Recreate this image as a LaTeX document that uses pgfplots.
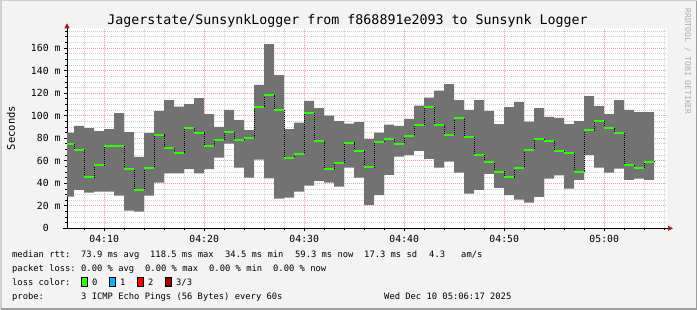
\documentclass[border=0pt]{standalone}
\usepackage{fontspec}
\setmonofont{DejaVu Sans Mono}
\usepackage{xcolor}
\usepackage{pgfplots}
\pgfplotsset{compat=1.18}
\usepackage{pgfplotstable}
\usepgfplotslibrary{fillbetween}
\usetikzlibrary{arrows.meta}
\definecolor{bgc}{RGB}{243,243,243}
\definecolor{shadea}{RGB}{207,207,207}
\definecolor{shadeb}{RGB}{158,158,158}
\definecolor{smoke}{RGB}{114,114,114}
\definecolor{medc}{RGB}{38,255,0}
\definecolor{c1}{RGB}{0,184,255}
\definecolor{c2}{RGB}{255,0,0}
\definecolor{c3}{RGB}{160,0,0}
\definecolor{arrowc}{RGB}{150,30,30}
\definecolor{majc}{RGB}{235,160,160}
\definecolor{minc}{RGB}{205,205,205}
\newcommand\titlefont{\ttfamily\fontsize{13.3}{15}\selectfont}
\newcommand\tickfont{\ttfamily\fontsize{9.8}{11}\selectfont}
\newcommand\legfont{\ttfamily\fontsize{8.8}{10}\selectfont}
\pgfplotstableread{
x lo hi med
6.28 28.1 84.9 75.1
7 34.0 90.8 69.5
8 31.6 89.0 45.5
9 32.5 86.3 56.2
10 32.5 88.1 73.3
11 29.0 102.3 73.3
12 15.6 85.4 52.6
13 14.8 63.3 34.3
14 29.0 84.6 53.8
15 40.5 104.1 83.1
16 48.8 113.8 71.5
17 48.8 107.9 67.1
18 52.6 110.3 89.3
19 48.8 115.6 84.9
20 52.6 101.4 73.3
21 62.7 89.9 78.6
22 75.1 105.0 85.7
23 53.8 96.1 78.6
24 44.9 87.2 80.4
25 60.9 127.2 107.9
26 44.3 163.5 118.3
27 26.3 136.0 105.3
28 27.2 88.1 62.7
29 32.5 93.7 66.2
30 37.8 113.0 102.3
31 42.0 106.7 77.5
32 40.5 99.9 52.6
33 36.9 95.2 58.2
34 53.8 92.8 76.0
35 44.9 94.3 68.6
36 20.7 79.2 54.4
37 29.5 84.9 76.9
38 47.3 92.0 79.2
39 63.6 90.8 75.1
40 65.0 97.0 82.2
41 68.6 108.8 91.7
42 61.5 115.9 107.6
43 53.8 122.1 91.7
44 59.1 128.0 82.8
45 49.4 113.8 98.2
46 30.7 105.0 81.0
47 34.0 113.8 65.0
48 48.2 104.1 59.1
49 35.8 92.5 50.3
50 29.5 107.6 45.5
51 25.4 112.1 53.8
52 22.7 94.6 69.5
53 27.8 106.7 79.2
54 44.0 98.8 77.5
55 47.0 97.9 68.6
56 35.2 92.5 66.8
57 42.9 95.2 50.3
58 65.0 117.4 87.2
59 53.8 108.5 95.2
60 49.4 101.4 89.0
61 52.9 113.8 84.3
62 42.9 105.0 56.2
63 44.0 103.2 53.8
64 42.9 103.2 59.1
65 42.9 103.2 59.1
}\data
\pagecolor{bgc}
\begin{document}
\begin{tikzpicture}[x=1pt,y=1pt]
\draw[shadea, line width=1.5pt] (0.75,0) -- (0.75,309.25) -- (697,309.25);
\draw[shadeb, line width=1.5pt] (0.75,0.75) -- (696.25,0.75) -- (696.25,309.25);
\begin{axis}[
  at={(67pt,81.7pt)}, anchor=south west, scale only axis,
  width=600pt, height=200pt,
  xmin=6.28, xmax=66.28, ymin=0, ymax=177.5,
  axis x line=bottom, axis y line=left,
  axis line style={black, line width=0.6pt},
  x axis line style={-{Triangle[length=5pt,width=5pt,color=arrowc]}, shorten >=-6pt, shorten <=-4pt},
  y axis line style={-{Triangle[length=5pt,width=5pt,color=arrowc]}, shorten >=-5pt},
  xtick={10,20,30,40,50,60},
  xticklabels={04:10,04:20,04:30,04:40,04:50,05:00},
  minor xtick={8,12,14,16,18,22,24,26,28,32,34,36,38,42,44,46,48,52,54,56,58,62,64,66},
  ytick={0,20,40,60,80,100,120,140,160},
  yticklabels={0\phantom{0m},20 m,40 m,60 m,80 m,100 m,120 m,140 m,160 m},
  minor ytick={5,10,15,25,30,35,45,50,55,65,70,75,85,90,95,105,110,115,125,130,135,145,150,155,165,170,175},
  grid=both,
  major grid style={draw=majc, line width=0.6pt, dash pattern=on 1pt off 1pt},
  minor grid style={draw=minc, line width=0.6pt, dash pattern=on 1pt off 1pt},
  tick align=outside, major tick length=3pt, minor tick length=2pt,
  tick style={black, line width=0.6pt},
  ticklabel style={font=\tickfont},
  axis background/.style={fill=white},
]
\addplot[name path=lo, draw=none, const plot mark left, forget plot] table[x=x,y=lo]{\data};
\addplot[name path=hi, draw=none, const plot mark left, forget plot] table[x=x,y=hi]{\data};
\addplot[smoke, forget plot] fill between[of=hi and lo];
\addplot[black, line width=0.7pt, dash pattern=on 1pt off 1pt, const plot mark left, forget plot] table[x=x,y=med]{\data};
\addplot[medc, line width=2pt, jump mark left, forget plot] table[x=x,y=med]{\data};
\end{axis}
\node[anchor=base, font=\titlefont] at (347.5,285) {Jagerstate/SunsynkLogger from f868891e2093 to Sunsynk Logger};
\node[rotate=90, font=\ttfamily\fontsize{10.5}{12}\selectfont] at (11,182) {Seconds};
\node[rotate=-90, anchor=base west, font=\ttfamily\fontsize{8}{9}\selectfont, text=black!33] at (685,305) {RRDTOOL / TOBI OETIKER};
% legend
\begin{scope}[every node/.style={anchor=base west, font=\legfont, inner sep=0pt}]
\node at (12,52.3) {median rtt:};
\node at (81,52.3) {73.9 ms avg};
\node at (150,52.3) {118.5 ms max};
\node at (225,52.3) {34.5 ms min};
\node at (295,52.3) {59.3 ms now};
\node at (364,52.3) {17.3 ms sd};
\node at (429,52.3) {4.3};
\node at (461,52.3) {am/s};
\node at (12,38.3) {packet loss:};
\node at (81,38.3) {0.00 \% avg};
\node at (145,38.3) {0.00 \% max};
\node at (209,38.3) {0.00 \% min};
\node at (273,38.3) {0.00 \% now};
\node at (12,24.3) {loss color:};
\node at (92,24.3) {0};
\node at (120,24.3) {1};
\node at (148,24.3) {2};
\node at (176,24.3) {3/3};
\node at (12,10.7) {probe:};
\node at (81,10.7) {3 ICMP Echo Pings (56 Bytes) every 60s};
\node at (384,10.7) {Wed Dec 10 05:06:17 2025};
\end{scope}
\draw[fill=medc, line width=0.6pt] (81.5,23.3) rectangle (87.3,32.7);
\draw[fill=c1, line width=0.6pt] (109.5,23.3) rectangle (115.3,32.7);
\draw[fill=c2, line width=0.6pt] (137.5,23.3) rectangle (143.3,32.7);
\draw[fill=c3, line width=0.6pt] (165.5,23.3) rectangle (171.3,32.7);
\pgfresetboundingbox
\path[use as bounding box] (0,0) rectangle (697,310);
\end{tikzpicture}
\end{document}
